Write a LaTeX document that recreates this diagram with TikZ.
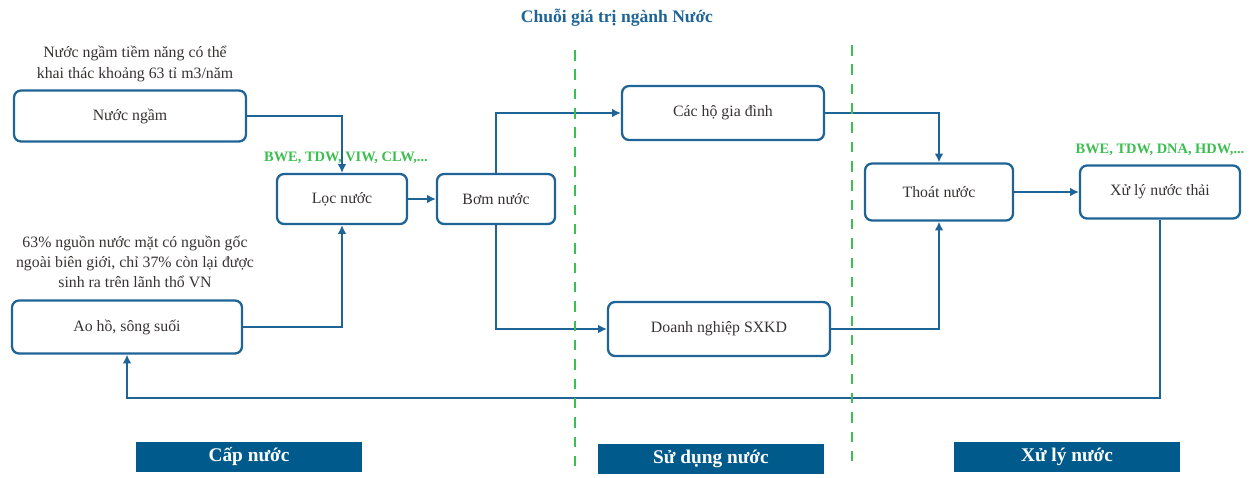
\documentclass[tikz,border=0pt]{standalone}
\usepackage{fontspec}
\setmainfont{Liberation Serif}
\usetikzlibrary{arrows.meta}
\definecolor{flow}{RGB}{31,100,150}
\definecolor{firmcol}{RGB}{60,190,80}
\definecolor{barcol}{RGB}{0,90,140}
\definecolor{ink}{RGB}{55,50,50}

\begin{document}
\begin{tikzpicture}[x=0.02cm,y=-0.02cm,
    box/.style={draw=flow,line width=1.3pt,rounded corners=4pt,fill=white,
      text=ink,font=\fontsize{9}{11}\selectfont},
    note/.style={text=ink,align=center,font=\fontsize{9}{11.5}\selectfont},
    firms/.style={text=firmcol,font=\bfseries\fontsize{8.2}{10}\selectfont},
    stagebar/.style={fill=barcol,text=white,font=\bfseries\fontsize{11}{13}\selectfont,
      minimum width=4.52cm,minimum height=0.6cm},
    link/.style={draw=flow,line width=1.1pt,-{Latex[length=5pt,width=5pt]}},
    divider/.style={draw=firmcol,line width=1.3pt,dash pattern=on 6pt off 5pt}]
  \useasboundingbox (0,0) rectangle (1250,477);

  % title
  \node[font=\bfseries\fontsize{10}{12}\selectfont,text=flow] (title) at (617,18) {Chuỗi giá trị ngành Nước};

  % supply side
  \node[note] (ngamnote) at (135,64) {Nước ngầm tiềm năng có thể\\khai thác khoảng 63 tỉ m3/năm};
  \node[box,minimum width=4.64cm,minimum height=1.02cm] (ngam) at (130,116) {Nước ngầm};
  \node[note] (matnote) at (135,262) {63\% nguồn nước mặt có nguồn gốc\\ngoài biên giới, chỉ 37\% còn lại được\\sinh ra trên lãnh thổ VN};
  \node[box,minimum width=4.6cm,minimum height=1.06cm] (aoho) at (127,327) {Ao hồ, sông suối};
  \node[firms] (capfirms) at (346,158) {BWE, TDW, VIW, CLW,...};
  \node[box,minimum width=2.6cm,minimum height=1.0cm] (loc) at (342,199) {Lọc nước};
  \node[box,minimum width=2.36cm,minimum height=1.0cm] (bom) at (496,199) {Bơm nước};

  % usage
  \node[box,minimum width=4.04cm,minimum height=1.08cm] (hogd) at (723,113) {Các hộ gia đình};
  \node[box,minimum width=4.44cm,minimum height=1.08cm] (dnsx) at (719,329) {Doanh nghiệp SXKD};

  % treatment
  \node[box,minimum width=2.96cm,minimum height=1.14cm] (thoat) at (939,192) {Thoát nước};
  \node[firms] (xlfirms) at (1160,150) {BWE, TDW, DNA, HDW,...};
  \node[box,minimum width=3.2cm,minimum height=1.06cm] (xuly) at (1160,192) {Xử lý nước thải};
  \coordinate (loopy) at (0,398);

  \begin{scope}
    \draw[link] (ngam.east) -| (loc.north);
    \draw[link] (aoho.east) -| (loc.south);
    \draw[link] (loc) -- (bom);
    \draw[link] (bom.north) |- (hogd.west);
    \draw[link] (bom.south) |- (dnsx.west);
    \draw[link] (hogd.east) -| (thoat.north);
    \draw[link] (dnsx.east) -| (thoat.south);
    \draw[link] (thoat) -- (xuly);
    \draw[link] (xuly.south) -- (xuly.south |- loopy) -| (aoho.south);
  \end{scope}

  % stage dividers
  \draw[divider] (575,50) -- (575,470);
  \draw[divider] (852,45) -- (852,465);

  % stage bars
  \node[stagebar] (cap) at (249,457) {Cấp nước};
  \node[stagebar] (sudung) at (711,459) {Sử dụng nước};
  \node[stagebar] (xlnuoc) at (1067,457) {Xử lý nước};
\end{tikzpicture}
\end{document}
